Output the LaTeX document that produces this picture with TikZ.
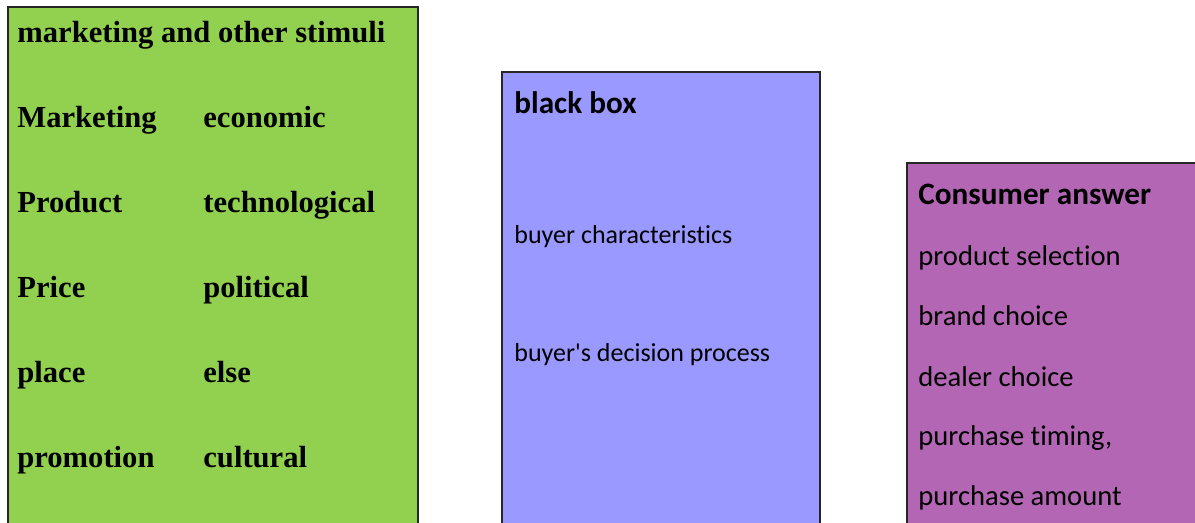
\documentclass[tikz,border=0pt]{standalone}
\usepackage{fontspec}
\newfontfamily\stimfont{Liberation Serif}
\newfontfamily\boxfont[Ligatures=NoCommon]{Carlito}
\definecolor{stimgreen}{HTML}{92D050}
\definecolor{boxblue}{HTML}{9999FF}
\definecolor{answerpurple}{HTML}{B366B3}
\tikzset{
  panel/.style={draw=black!85, line width=1pt},
  lbl/.style={inner sep=0pt, anchor=base west, text=black},
  stim/.style={lbl, font=\stimfont\bfseries\fontsize{15.3}{17}\selectfont},
  ttl/.style={lbl, font=\boxfont\bfseries\fontsize{15.6}{17}\selectfont},
  bluetxt/.style={lbl, font=\boxfont\fontsize{13}{15}\selectfont},
  purptxt/.style={lbl, font=\boxfont\fontsize{14.3}{16}\selectfont},
}
\begin{document}
\begin{tikzpicture}[x=0.5pt, y=-0.5pt]
\useasboundingbox (0,0) rectangle (1195,523);
\clip (0,0) rectangle (1195,523);
% three panels, running past the lower edge
\path[panel, fill=stimgreen] (8,7) rectangle (418,540);
\path[panel, fill=boxblue] (502,72) rectangle (820,540);
\path[panel, fill=answerpurple] (907,163) rectangle (1210,540);
% stimuli panel
\node[stim] (st) at (17,43) {marketing and other stimuli};
\node[stim] (m1) at (17,128) {Marketing};
\node[stim] (m2) at (17,213) {Product};
\node[stim] (m3) at (17,298) {Price};
\node[stim] (m4) at (17,383) {place};
\node[stim] (m5) at (17,468) {promotion};
\node[stim] (o1) at (203,128) {economic};
\node[stim] (o2) at (203,213) {technological};
\node[stim] (o3) at (203,298) {political};
\node[stim] (o4) at (203,383) {else};
\node[stim] (o5) at (203,468) {cultural};
% black box panel
\node[ttl] (bb) at (514,114) {black box};
\node[bluetxt] (b1) at (514,244) {buyer characteristics};
\node[bluetxt] (b2) at (514,362) {buyer's decision process};
% answer panel
\node[ttl] (ca) at (918,205) {Consumer answer};
\node[purptxt] (a1) at (918,266) {product selection};
\node[purptxt] (a2) at (918,326) {brand choice};
\node[purptxt] (a3) at (918,387) {dealer choice};
\node[purptxt] (a4) at (918,446) {purchase timing,};
\node[purptxt] (a5) at (918,506) {purchase amount};
\end{tikzpicture}
\end{document}
